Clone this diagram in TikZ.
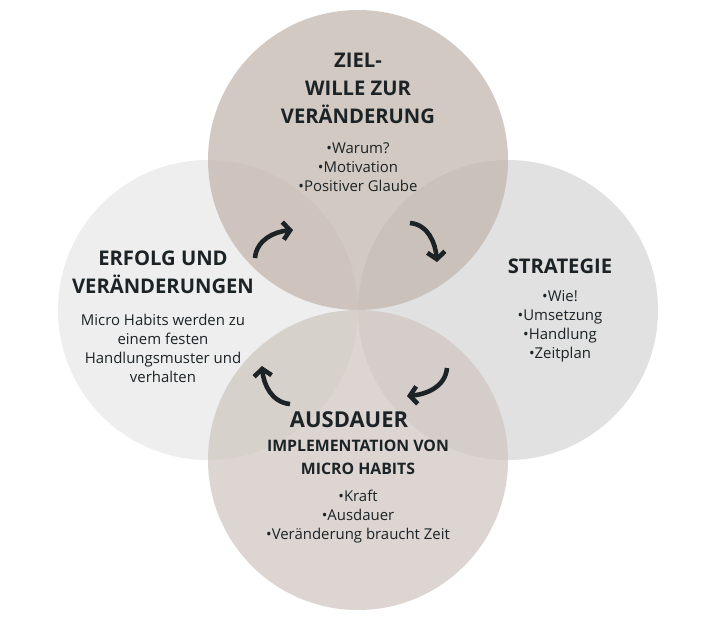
\documentclass[tikz,border=0pt]{standalone}
\usepackage{fontspec}
\setmainfont{Open Sans}
\usetikzlibrary{arrows.meta}
\definecolor{ink}{HTML}{1C2326}
\definecolor{cleft}{HTML}{E8E8E8}
\definecolor{cright}{HTML}{D6D6D6}
\definecolor{cbottom}{HTML}{CFC6C0}
\definecolor{ctop}{HTML}{C2B5AB}
\tikzset{
  ring/.style={circle, minimum size=300*0.02cm, inner sep=0pt, fill opacity=0.72},
  head/.style={text=ink, font=\bfseries\fontsize{11.5}{13}\selectfont, align=center},
  sub/.style={text=ink, font=\bfseries\fontsize{9}{11}\selectfont, align=center},
  body/.style={text=ink, font=\fontsize{8.5}{10.8}\selectfont, align=center},
  turn/.style={ink, line width=2.6pt, -{Straight Barb[length=4pt,width=10pt]}}
}
\begin{document}
\begin{tikzpicture}[x=0.02cm,y=0.02cm]
\useasboundingbox[fill=white] (0,0) rectangle (714,-623);
% circles
\node[ring, fill=cleft] (erfolg) at (208,-310){};
\node[ring, fill=cright] (strat) at (508,-310){};
\node[ring, fill=cbottom] (aus) at (358,-460){};
\node[ring, fill=ctop] (ziel) at (358,-160){};
% top
\node[head] (t1) at (358,-88){ZIEL-\\[3pt]WILLE ZUR\\[3pt]VERÄNDERUNG};
\node[body] (t2) at (358,-167){•Warum?\\•Motivation\\•Positiver Glaube};
% left
\node[head] (l1) at (163,-272){ERFOLG UND\\[3pt]VERÄNDERUNGEN};
\node[body] (l2) at (163,-348){Micro Habits werden zu\\einem festen\\Handlungsmuster und\\verhalten};
% right
\node[head] (r1) at (560,-266){STRATEGIE};
\node[body] (r2) at (560,-326){•Wie!\\•Umsetzung\\•Handlung\\•Zeitplan};
% bottom
\node[head, font=\bfseries\fontsize{12.5}{14}\selectfont] (b1) at (349,-420){AUSDAUER};
\node[sub] (b2) at (358,-457){IMPLEMENTATION VON\\[2pt]MICRO HABITS};
\node[body] (b3) at (358,-517){•Kraft\\•Ausdauer\\•Veränderung braucht Zeit};
% turning arrows
\coordinate (p1) at (255,-258);
\coordinate (q1) at (293,-230);
\coordinate (p2) at (410,-223);
\coordinate (q2) at (437,-262);
\coordinate (p3) at (447,-368);
\coordinate (q3) at (407,-396);
\coordinate (p4) at (290,-404);
\coordinate (q4) at (262,-366);
\draw[turn] (p1) to[out=85,in=185] (q1);
\draw[turn] (p2) to[out=-5,in=95] (q2);
\draw[turn] (p3) to[out=-95,in=5] (q3);
\draw[turn] (p4) to[out=175,in=-85] (q4);
\end{tikzpicture}
\end{document}
